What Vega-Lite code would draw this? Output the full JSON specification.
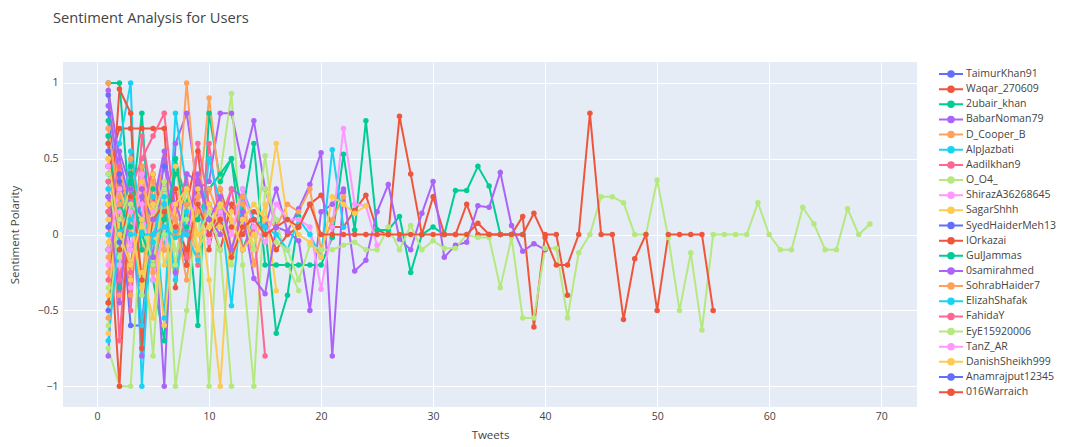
{
"$schema": "https://vega.github.io/schema/vega-lite/v6.json",
"width": 854, "height": 345,
"autosize": {"type": "none"},
"padding": {"left": 63, "top": 62, "right": 158, "bottom": 40},
"background": "white",
"title": {"text": "Sentiment Analysis for Users", "anchor": "start", "frame": "group", "dx": -10, "offset": 36, "font": "Open Sans", "fontSize": 14.7, "fontWeight": "normal", "color": "#444"},
"config": {
  "view": {"fill": "#E5ECF6", "stroke": null},
  "axis": {"grid": true, "gridColor": "#ffffff", "gridWidth": 1, "domain": false, "ticks": false, "labelColor": "#444", "labelFont": "Open Sans", "labelFontSize": 10.5, "titleColor": "#444", "titleFont": "Open Sans", "titleFontSize": 11.5, "titleFontWeight": "normal"}
},
"data": {"values": [
{"user":"TaimurKhan91","tweet":1,"polarity":0.92},{"user":"TaimurKhan91","tweet":2,"polarity":0.3},{"user":"TaimurKhan91","tweet":3,"polarity":-0.6},{"user":"TaimurKhan91","tweet":4,"polarity":-0.6},{"user":"TaimurKhan91","tweet":5,"polarity":0.2},{"user":"TaimurKhan91","tweet":6,"polarity":0.45},{"user":"TaimurKhan91","tweet":7,"polarity":0.1},{"user":"TaimurKhan91","tweet":8,"polarity":-0.2},{"user":"TaimurKhan91","tweet":9,"polarity":0.25},{"user":"TaimurKhan91","tweet":10,"polarity":0.0},{"user":"TaimurKhan91","tweet":11,"polarity":0.15},
{"user":"Waqar_270609","tweet":1,"polarity":0.45},{"user":"Waqar_270609","tweet":2,"polarity":0.7},{"user":"Waqar_270609","tweet":3,"polarity":0.7},{"user":"Waqar_270609","tweet":4,"polarity":0.7},{"user":"Waqar_270609","tweet":5,"polarity":0.7},{"user":"Waqar_270609","tweet":6,"polarity":0.7},{"user":"Waqar_270609","tweet":7,"polarity":-0.35},{"user":"Waqar_270609","tweet":8,"polarity":0.2},{"user":"Waqar_270609","tweet":9,"polarity":0.55},{"user":"Waqar_270609","tweet":10,"polarity":-0.1},{"user":"Waqar_270609","tweet":11,"polarity":0.3},{"user":"Waqar_270609","tweet":12,"polarity":0.05},
{"user":"2ubair_khan","tweet":1,"polarity":1.0},{"user":"2ubair_khan","tweet":2,"polarity":1.0},{"user":"2ubair_khan","tweet":3,"polarity":0.1},{"user":"2ubair_khan","tweet":4,"polarity":0.8},{"user":"2ubair_khan","tweet":5,"polarity":-0.3},{"user":"2ubair_khan","tweet":6,"polarity":-0.7},{"user":"2ubair_khan","tweet":7,"polarity":0.5},{"user":"2ubair_khan","tweet":8,"polarity":0.2},{"user":"2ubair_khan","tweet":9,"polarity":-0.6},{"user":"2ubair_khan","tweet":10,"polarity":0.8},{"user":"2ubair_khan","tweet":11,"polarity":0.35},{"user":"2ubair_khan","tweet":12,"polarity":0.5},{"user":"2ubair_khan","tweet":13,"polarity":-0.1},{"user":"2ubair_khan","tweet":14,"polarity":0.1},{"user":"2ubair_khan","tweet":15,"polarity":0.05},{"user":"2ubair_khan","tweet":16,"polarity":-0.65},{"user":"2ubair_khan","tweet":17,"polarity":-0.4},{"user":"2ubair_khan","tweet":18,"polarity":0.12},
{"user":"BabarNoman79","tweet":1,"polarity":-0.8},{"user":"BabarNoman79","tweet":2,"polarity":0.55},{"user":"BabarNoman79","tweet":3,"polarity":0.3},{"user":"BabarNoman79","tweet":4,"polarity":-0.8},{"user":"BabarNoman79","tweet":5,"polarity":0.2},{"user":"BabarNoman79","tweet":6,"polarity":-1.0},{"user":"BabarNoman79","tweet":7,"polarity":0.6},{"user":"BabarNoman79","tweet":8,"polarity":0.8},{"user":"BabarNoman79","tweet":9,"polarity":0.3},{"user":"BabarNoman79","tweet":10,"polarity":0.35},{"user":"BabarNoman79","tweet":11,"polarity":0.8},{"user":"BabarNoman79","tweet":12,"polarity":0.8},{"user":"BabarNoman79","tweet":13,"polarity":0.45},{"user":"BabarNoman79","tweet":14,"polarity":0.75},{"user":"BabarNoman79","tweet":15,"polarity":0.3},{"user":"BabarNoman79","tweet":16,"polarity":0.05},{"user":"BabarNoman79","tweet":17,"polarity":0.02},{"user":"BabarNoman79","tweet":18,"polarity":-0.04},{"user":"BabarNoman79","tweet":19,"polarity":-0.5},{"user":"BabarNoman79","tweet":20,"polarity":0.15},{"user":"BabarNoman79","tweet":21,"polarity":0.2},{"user":"BabarNoman79","tweet":22,"polarity":0.3},
{"user":"D_Cooper_B","tweet":1,"polarity":1.0},{"user":"D_Cooper_B","tweet":2,"polarity":0.2},{"user":"D_Cooper_B","tweet":3,"polarity":-0.4},{"user":"D_Cooper_B","tweet":4,"polarity":0.35},{"user":"D_Cooper_B","tweet":5,"polarity":0.1},{"user":"D_Cooper_B","tweet":6,"polarity":0.5},{"user":"D_Cooper_B","tweet":7,"polarity":0.0},{"user":"D_Cooper_B","tweet":8,"polarity":1.0},{"user":"D_Cooper_B","tweet":9,"polarity":0.15},{"user":"D_Cooper_B","tweet":10,"polarity":0.9},{"user":"D_Cooper_B","tweet":11,"polarity":0.3},{"user":"D_Cooper_B","tweet":12,"polarity":-0.1},{"user":"D_Cooper_B","tweet":13,"polarity":0.2},
{"user":"AlpJazbati","tweet":1,"polarity":0.4},{"user":"AlpJazbati","tweet":2,"polarity":0.6},{"user":"AlpJazbati","tweet":3,"polarity":1.0},{"user":"AlpJazbati","tweet":4,"polarity":-1.0},{"user":"AlpJazbati","tweet":5,"polarity":0.25},{"user":"AlpJazbati","tweet":6,"polarity":-0.55},{"user":"AlpJazbati","tweet":7,"polarity":0.8},{"user":"AlpJazbati","tweet":8,"polarity":0.3},{"user":"AlpJazbati","tweet":9,"polarity":0.1},{"user":"AlpJazbati","tweet":10,"polarity":0.2},
{"user":"Aadilkhan9","tweet":1,"polarity":0.65},{"user":"Aadilkhan9","tweet":2,"polarity":-0.7},{"user":"Aadilkhan9","tweet":3,"polarity":0.3},{"user":"Aadilkhan9","tweet":4,"polarity":0.5},{"user":"Aadilkhan9","tweet":5,"polarity":0.65},{"user":"Aadilkhan9","tweet":6,"polarity":0.8},{"user":"Aadilkhan9","tweet":7,"polarity":0.1},{"user":"Aadilkhan9","tweet":8,"polarity":0.4},{"user":"Aadilkhan9","tweet":9,"polarity":-0.2},{"user":"Aadilkhan9","tweet":10,"polarity":0.6},{"user":"Aadilkhan9","tweet":11,"polarity":0.05},
{"user":"O_O4_","tweet":1,"polarity":-0.75},{"user":"O_O4_","tweet":2,"polarity":-1.0},{"user":"O_O4_","tweet":3,"polarity":-1.0},{"user":"O_O4_","tweet":4,"polarity":0.1},{"user":"O_O4_","tweet":5,"polarity":-0.8},{"user":"O_O4_","tweet":6,"polarity":0.3},{"user":"O_O4_","tweet":7,"polarity":-1.0},{"user":"O_O4_","tweet":8,"polarity":-0.5},{"user":"O_O4_","tweet":9,"polarity":0.2},{"user":"O_O4_","tweet":10,"polarity":-1.0},{"user":"O_O4_","tweet":11,"polarity":0.4},{"user":"O_O4_","tweet":12,"polarity":0.93},{"user":"O_O4_","tweet":13,"polarity":-0.2},{"user":"O_O4_","tweet":14,"polarity":-1.0},{"user":"O_O4_","tweet":15,"polarity":0.3},{"user":"O_O4_","tweet":16,"polarity":0.1},{"user":"O_O4_","tweet":17,"polarity":-0.2},{"user":"O_O4_","tweet":18,"polarity":-0.37},
{"user":"ShirazA36268645","tweet":1,"polarity":0.55},{"user":"ShirazA36268645","tweet":2,"polarity":0.2},{"user":"ShirazA36268645","tweet":3,"polarity":-0.35},{"user":"ShirazA36268645","tweet":4,"polarity":0.4},{"user":"ShirazA36268645","tweet":5,"polarity":0.15},{"user":"ShirazA36268645","tweet":6,"polarity":-0.1},{"user":"ShirazA36268645","tweet":7,"polarity":0.3},{"user":"ShirazA36268645","tweet":8,"polarity":0.05},
{"user":"SagarShhh","tweet":1,"polarity":-0.65},{"user":"SagarShhh","tweet":2,"polarity":0.35},{"user":"SagarShhh","tweet":3,"polarity":0.1},{"user":"SagarShhh","tweet":4,"polarity":-0.25},{"user":"SagarShhh","tweet":5,"polarity":-0.55},{"user":"SagarShhh","tweet":6,"polarity":0.2},{"user":"SagarShhh","tweet":7,"polarity":0.45},{"user":"SagarShhh","tweet":8,"polarity":0.0},{"user":"SagarShhh","tweet":9,"polarity":0.3},{"user":"SagarShhh","tweet":10,"polarity":-0.3},{"user":"SagarShhh","tweet":11,"polarity":-1.0},{"user":"SagarShhh","tweet":12,"polarity":0.15},{"user":"SagarShhh","tweet":13,"polarity":0.25},{"user":"SagarShhh","tweet":14,"polarity":-0.1},{"user":"SagarShhh","tweet":15,"polarity":0.2},{"user":"SagarShhh","tweet":16,"polarity":-0.37},
{"user":"SyedHaiderMeh13","tweet":1,"polarity":0.8},{"user":"SyedHaiderMeh13","tweet":2,"polarity":0.15},{"user":"SyedHaiderMeh13","tweet":3,"polarity":0.4},{"user":"SyedHaiderMeh13","tweet":4,"polarity":0.0},{"user":"SyedHaiderMeh13","tweet":5,"polarity":-0.15},{"user":"SyedHaiderMeh13","tweet":6,"polarity":0.3},{"user":"SyedHaiderMeh13","tweet":7,"polarity":0.2},
{"user":"IOrkazai","tweet":1,"polarity":-0.1},{"user":"IOrkazai","tweet":2,"polarity":0.96},{"user":"IOrkazai","tweet":3,"polarity":0.8},{"user":"IOrkazai","tweet":4,"polarity":-0.75},{"user":"IOrkazai","tweet":5,"polarity":0.4},{"user":"IOrkazai","tweet":6,"polarity":0.1},{"user":"IOrkazai","tweet":7,"polarity":0.3},{"user":"IOrkazai","tweet":8,"polarity":-0.2},{"user":"IOrkazai","tweet":9,"polarity":0.35},{"user":"IOrkazai","tweet":10,"polarity":0.1},{"user":"IOrkazai","tweet":11,"polarity":-0.1},{"user":"IOrkazai","tweet":12,"polarity":0.2},{"user":"IOrkazai","tweet":13,"polarity":0.0},{"user":"IOrkazai","tweet":14,"polarity":0.15},{"user":"IOrkazai","tweet":15,"polarity":0.1},{"user":"IOrkazai","tweet":16,"polarity":-0.1},{"user":"IOrkazai","tweet":17,"polarity":0.0},{"user":"IOrkazai","tweet":18,"polarity":0.05},{"user":"IOrkazai","tweet":19,"polarity":0.2},{"user":"IOrkazai","tweet":20,"polarity":0.26},{"user":"IOrkazai","tweet":21,"polarity":0.05},{"user":"IOrkazai","tweet":22,"polarity":0.05},{"user":"IOrkazai","tweet":23,"polarity":0.16},{"user":"IOrkazai","tweet":24,"polarity":0.26},{"user":"IOrkazai","tweet":25,"polarity":0.03},{"user":"IOrkazai","tweet":26,"polarity":0.0},{"user":"IOrkazai","tweet":27,"polarity":0.78},{"user":"IOrkazai","tweet":28,"polarity":0.4},{"user":"IOrkazai","tweet":29,"polarity":0.0},{"user":"IOrkazai","tweet":30,"polarity":0.25},{"user":"IOrkazai","tweet":31,"polarity":0.0},{"user":"IOrkazai","tweet":32,"polarity":0.0},{"user":"IOrkazai","tweet":33,"polarity":0.2},{"user":"IOrkazai","tweet":34,"polarity":0.0},{"user":"IOrkazai","tweet":35,"polarity":0.0},{"user":"IOrkazai","tweet":36,"polarity":0.0},{"user":"IOrkazai","tweet":37,"polarity":0.0},{"user":"IOrkazai","tweet":38,"polarity":0.12},{"user":"IOrkazai","tweet":39,"polarity":-0.61},{"user":"IOrkazai","tweet":40,"polarity":0.0},{"user":"IOrkazai","tweet":41,"polarity":0.0},{"user":"IOrkazai","tweet":42,"polarity":-0.4},
{"user":"GulJammas","tweet":1,"polarity":0.35},{"user":"GulJammas","tweet":2,"polarity":-0.2},{"user":"GulJammas","tweet":3,"polarity":0.45},{"user":"GulJammas","tweet":4,"polarity":0.1},{"user":"GulJammas","tweet":5,"polarity":0.2},{"user":"GulJammas","tweet":6,"polarity":-0.1},{"user":"GulJammas","tweet":7,"polarity":0.5},{"user":"GulJammas","tweet":8,"polarity":0.05},{"user":"GulJammas","tweet":9,"polarity":0.1},{"user":"GulJammas","tweet":10,"polarity":0.3},{"user":"GulJammas","tweet":11,"polarity":0.4},{"user":"GulJammas","tweet":12,"polarity":0.5},{"user":"GulJammas","tweet":13,"polarity":0.15},{"user":"GulJammas","tweet":14,"polarity":0.6},{"user":"GulJammas","tweet":15,"polarity":-0.2},{"user":"GulJammas","tweet":16,"polarity":-0.2},{"user":"GulJammas","tweet":17,"polarity":-0.2},{"user":"GulJammas","tweet":18,"polarity":-0.2},{"user":"GulJammas","tweet":19,"polarity":-0.2},{"user":"GulJammas","tweet":20,"polarity":-0.2},{"user":"GulJammas","tweet":21,"polarity":-0.02},{"user":"GulJammas","tweet":22,"polarity":0.53},{"user":"GulJammas","tweet":23,"polarity":0.03},{"user":"GulJammas","tweet":24,"polarity":0.75},{"user":"GulJammas","tweet":25,"polarity":0.03},{"user":"GulJammas","tweet":26,"polarity":0.03},{"user":"GulJammas","tweet":27,"polarity":0.12},{"user":"GulJammas","tweet":28,"polarity":-0.25},{"user":"GulJammas","tweet":29,"polarity":0.0},{"user":"GulJammas","tweet":30,"polarity":0.05},{"user":"GulJammas","tweet":31,"polarity":0.0},{"user":"GulJammas","tweet":32,"polarity":0.29},{"user":"GulJammas","tweet":33,"polarity":0.29},{"user":"GulJammas","tweet":34,"polarity":0.45},{"user":"GulJammas","tweet":35,"polarity":0.32},{"user":"GulJammas","tweet":36,"polarity":0.0},{"user":"GulJammas","tweet":37,"polarity":0.0},{"user":"GulJammas","tweet":38,"polarity":0.0},
{"user":"0samirahmed","tweet":1,"polarity":0.6},{"user":"0samirahmed","tweet":2,"polarity":0.1},{"user":"0samirahmed","tweet":3,"polarity":-0.3},{"user":"0samirahmed","tweet":4,"polarity":0.45},{"user":"0samirahmed","tweet":5,"polarity":0.2},{"user":"0samirahmed","tweet":6,"polarity":0.55},{"user":"0samirahmed","tweet":7,"polarity":-0.25},{"user":"0samirahmed","tweet":8,"polarity":0.4},{"user":"0samirahmed","tweet":9,"polarity":0.35},{"user":"0samirahmed","tweet":10,"polarity":0.1},{"user":"0samirahmed","tweet":11,"polarity":0.0},{"user":"0samirahmed","tweet":12,"polarity":0.3},{"user":"0samirahmed","tweet":13,"polarity":0.25},{"user":"0samirahmed","tweet":14,"polarity":0.1},{"user":"0samirahmed","tweet":15,"polarity":0.05},{"user":"0samirahmed","tweet":16,"polarity":0.3},{"user":"0samirahmed","tweet":17,"polarity":0.02},{"user":"0samirahmed","tweet":18,"polarity":0.17},{"user":"0samirahmed","tweet":19,"polarity":0.33},{"user":"0samirahmed","tweet":20,"polarity":0.54},{"user":"0samirahmed","tweet":21,"polarity":-0.8},{"user":"0samirahmed","tweet":22,"polarity":0.28},{"user":"0samirahmed","tweet":23,"polarity":-0.24},{"user":"0samirahmed","tweet":24,"polarity":-0.17},{"user":"0samirahmed","tweet":25,"polarity":0.15},{"user":"0samirahmed","tweet":26,"polarity":0.33},{"user":"0samirahmed","tweet":27,"polarity":-0.03},{"user":"0samirahmed","tweet":28,"polarity":-0.1},{"user":"0samirahmed","tweet":29,"polarity":0.14},{"user":"0samirahmed","tweet":30,"polarity":0.35},{"user":"0samirahmed","tweet":31,"polarity":-0.15},{"user":"0samirahmed","tweet":32,"polarity":-0.07},{"user":"0samirahmed","tweet":33,"polarity":-0.05},{"user":"0samirahmed","tweet":34,"polarity":0.19},{"user":"0samirahmed","tweet":35,"polarity":0.18},{"user":"0samirahmed","tweet":36,"polarity":0.41},{"user":"0samirahmed","tweet":37,"polarity":0.06},{"user":"0samirahmed","tweet":38,"polarity":-0.11},{"user":"0samirahmed","tweet":39,"polarity":-0.06},{"user":"0samirahmed","tweet":40,"polarity":-0.1},
{"user":"SohrabHaider7","tweet":1,"polarity":0.25},{"user":"SohrabHaider7","tweet":2,"polarity":-0.4},{"user":"SohrabHaider7","tweet":3,"polarity":0.5},{"user":"SohrabHaider7","tweet":4,"polarity":0.1},{"user":"SohrabHaider7","tweet":5,"polarity":-0.2},{"user":"SohrabHaider7","tweet":6,"polarity":0.35},{"user":"SohrabHaider7","tweet":7,"polarity":0.0},{"user":"SohrabHaider7","tweet":8,"polarity":0.2},{"user":"SohrabHaider7","tweet":9,"polarity":-0.15},{"user":"SohrabHaider7","tweet":10,"polarity":0.3},{"user":"SohrabHaider7","tweet":11,"polarity":0.1},{"user":"SohrabHaider7","tweet":12,"polarity":0.0},{"user":"SohrabHaider7","tweet":13,"polarity":0.25},{"user":"SohrabHaider7","tweet":14,"polarity":-0.2},{"user":"SohrabHaider7","tweet":15,"polarity":0.1},{"user":"SohrabHaider7","tweet":16,"polarity":0.05},{"user":"SohrabHaider7","tweet":17,"polarity":0.2},{"user":"SohrabHaider7","tweet":18,"polarity":0.15},{"user":"SohrabHaider7","tweet":19,"polarity":0.3},{"user":"SohrabHaider7","tweet":20,"polarity":-0.1},{"user":"SohrabHaider7","tweet":21,"polarity":0.1},{"user":"SohrabHaider7","tweet":22,"polarity":0.25},
{"user":"ElizahShafak","tweet":1,"polarity":0.05},{"user":"ElizahShafak","tweet":2,"polarity":0.02},{"user":"ElizahShafak","tweet":3,"polarity":0.0},{"user":"ElizahShafak","tweet":4,"polarity":0.02},{"user":"ElizahShafak","tweet":5,"polarity":-0.05},{"user":"ElizahShafak","tweet":6,"polarity":0.0},{"user":"ElizahShafak","tweet":7,"polarity":0.02},{"user":"ElizahShafak","tweet":8,"polarity":0.0},{"user":"ElizahShafak","tweet":9,"polarity":-0.17},{"user":"ElizahShafak","tweet":10,"polarity":0.5},{"user":"ElizahShafak","tweet":11,"polarity":0.2},{"user":"ElizahShafak","tweet":12,"polarity":-0.47},{"user":"ElizahShafak","tweet":13,"polarity":0.3},{"user":"ElizahShafak","tweet":14,"polarity":0.1},{"user":"ElizahShafak","tweet":15,"polarity":0.05},{"user":"ElizahShafak","tweet":16,"polarity":0.0},{"user":"ElizahShafak","tweet":17,"polarity":-0.1},{"user":"ElizahShafak","tweet":18,"polarity":0.1},{"user":"ElizahShafak","tweet":19,"polarity":0.0},{"user":"ElizahShafak","tweet":20,"polarity":-0.15},{"user":"ElizahShafak","tweet":21,"polarity":0.56},{"user":"ElizahShafak","tweet":22,"polarity":0.05},
{"user":"FahidaY","tweet":1,"polarity":-0.3},{"user":"FahidaY","tweet":2,"polarity":0.4},{"user":"FahidaY","tweet":3,"polarity":-0.5},{"user":"FahidaY","tweet":4,"polarity":0.65},{"user":"FahidaY","tweet":5,"polarity":0.2},{"user":"FahidaY","tweet":6,"polarity":0.3},{"user":"FahidaY","tweet":7,"polarity":0.1},{"user":"FahidaY","tweet":8,"polarity":-0.15},{"user":"FahidaY","tweet":9,"polarity":0.6},{"user":"FahidaY","tweet":10,"polarity":0.2},{"user":"FahidaY","tweet":11,"polarity":0.1},{"user":"FahidaY","tweet":12,"polarity":0.3},{"user":"FahidaY","tweet":13,"polarity":-0.1},{"user":"FahidaY","tweet":14,"polarity":0.05},{"user":"FahidaY","tweet":15,"polarity":-0.8},
{"user":"EyE15920006","tweet":1,"polarity":0.1},{"user":"EyE15920006","tweet":2,"polarity":-0.2},{"user":"EyE15920006","tweet":3,"polarity":0.3},{"user":"EyE15920006","tweet":4,"polarity":-0.1},{"user":"EyE15920006","tweet":5,"polarity":0.2},{"user":"EyE15920006","tweet":6,"polarity":0.0},{"user":"EyE15920006","tweet":7,"polarity":-0.3},{"user":"EyE15920006","tweet":8,"polarity":0.1},{"user":"EyE15920006","tweet":9,"polarity":-0.1},{"user":"EyE15920006","tweet":10,"polarity":0.05},{"user":"EyE15920006","tweet":11,"polarity":0.2},{"user":"EyE15920006","tweet":12,"polarity":-0.2},{"user":"EyE15920006","tweet":13,"polarity":0.1},{"user":"EyE15920006","tweet":14,"polarity":-0.1},{"user":"EyE15920006","tweet":15,"polarity":0.52},{"user":"EyE15920006","tweet":16,"polarity":-0.05},{"user":"EyE15920006","tweet":17,"polarity":-0.1},{"user":"EyE15920006","tweet":18,"polarity":-0.3},{"user":"EyE15920006","tweet":19,"polarity":-0.07},{"user":"EyE15920006","tweet":20,"polarity":-0.1},{"user":"EyE15920006","tweet":21,"polarity":-0.1},{"user":"EyE15920006","tweet":22,"polarity":-0.07},{"user":"EyE15920006","tweet":23,"polarity":-0.05},{"user":"EyE15920006","tweet":24,"polarity":-0.1},{"user":"EyE15920006","tweet":25,"polarity":-0.1},{"user":"EyE15920006","tweet":26,"polarity":0.05},{"user":"EyE15920006","tweet":27,"polarity":-0.1},{"user":"EyE15920006","tweet":28,"polarity":0.06},{"user":"EyE15920006","tweet":29,"polarity":-0.1},{"user":"EyE15920006","tweet":30,"polarity":-0.04},{"user":"EyE15920006","tweet":31,"polarity":-0.09},{"user":"EyE15920006","tweet":32,"polarity":-0.09},{"user":"EyE15920006","tweet":33,"polarity":0.0},{"user":"EyE15920006","tweet":34,"polarity":-0.02},{"user":"EyE15920006","tweet":35,"polarity":-0.02},{"user":"EyE15920006","tweet":36,"polarity":-0.35},{"user":"EyE15920006","tweet":37,"polarity":-0.02},{"user":"EyE15920006","tweet":38,"polarity":-0.55},{"user":"EyE15920006","tweet":39,"polarity":-0.55},{"user":"EyE15920006","tweet":40,"polarity":-0.09},{"user":"EyE15920006","tweet":41,"polarity":-0.09},{"user":"EyE15920006","tweet":42,"polarity":-0.55},{"user":"EyE15920006","tweet":43,"polarity":-0.12},{"user":"EyE15920006","tweet":44,"polarity":0.0},{"user":"EyE15920006","tweet":45,"polarity":0.25},{"user":"EyE15920006","tweet":46,"polarity":0.25},{"user":"EyE15920006","tweet":47,"polarity":0.21},{"user":"EyE15920006","tweet":48,"polarity":0.0},{"user":"EyE15920006","tweet":49,"polarity":0.0},{"user":"EyE15920006","tweet":50,"polarity":0.36},{"user":"EyE15920006","tweet":51,"polarity":-0.02},{"user":"EyE15920006","tweet":52,"polarity":-0.5},{"user":"EyE15920006","tweet":53,"polarity":-0.12},{"user":"EyE15920006","tweet":54,"polarity":-0.63},{"user":"EyE15920006","tweet":55,"polarity":0.0},{"user":"EyE15920006","tweet":56,"polarity":0.0},{"user":"EyE15920006","tweet":57,"polarity":0.0},{"user":"EyE15920006","tweet":58,"polarity":0.0},{"user":"EyE15920006","tweet":59,"polarity":0.21},{"user":"EyE15920006","tweet":60,"polarity":0.0},{"user":"EyE15920006","tweet":61,"polarity":-0.1},{"user":"EyE15920006","tweet":62,"polarity":-0.1},{"user":"EyE15920006","tweet":63,"polarity":0.18},{"user":"EyE15920006","tweet":64,"polarity":0.07},{"user":"EyE15920006","tweet":65,"polarity":-0.1},{"user":"EyE15920006","tweet":66,"polarity":-0.1},{"user":"EyE15920006","tweet":67,"polarity":0.17},{"user":"EyE15920006","tweet":68,"polarity":0.0},{"user":"EyE15920006","tweet":69,"polarity":0.07},
{"user":"TanZ_AR","tweet":1,"polarity":0.3},{"user":"TanZ_AR","tweet":2,"polarity":-0.2},{"user":"TanZ_AR","tweet":3,"polarity":0.15},{"user":"TanZ_AR","tweet":4,"polarity":0.35},{"user":"TanZ_AR","tweet":5,"polarity":0.1},{"user":"TanZ_AR","tweet":6,"polarity":-0.1},{"user":"TanZ_AR","tweet":7,"polarity":0.2},{"user":"TanZ_AR","tweet":8,"polarity":0.0},{"user":"TanZ_AR","tweet":9,"polarity":0.25},{"user":"TanZ_AR","tweet":10,"polarity":-0.05},{"user":"TanZ_AR","tweet":11,"polarity":0.15},{"user":"TanZ_AR","tweet":12,"polarity":0.0},{"user":"TanZ_AR","tweet":13,"polarity":0.3},{"user":"TanZ_AR","tweet":14,"polarity":0.05},{"user":"TanZ_AR","tweet":15,"polarity":-0.05},{"user":"TanZ_AR","tweet":16,"polarity":0.2},{"user":"TanZ_AR","tweet":17,"polarity":0.1},{"user":"TanZ_AR","tweet":18,"polarity":0.1},{"user":"TanZ_AR","tweet":19,"polarity":0.05},{"user":"TanZ_AR","tweet":20,"polarity":-0.36},{"user":"TanZ_AR","tweet":21,"polarity":0.05},{"user":"TanZ_AR","tweet":22,"polarity":0.7},{"user":"TanZ_AR","tweet":23,"polarity":0.2},{"user":"TanZ_AR","tweet":24,"polarity":0.19},{"user":"TanZ_AR","tweet":25,"polarity":-0.07},
{"user":"DanishSheikh999","tweet":1,"polarity":0.1},{"user":"DanishSheikh999","tweet":2,"polarity":-0.45},{"user":"DanishSheikh999","tweet":3,"polarity":0.25},{"user":"DanishSheikh999","tweet":4,"polarity":0.05},{"user":"DanishSheikh999","tweet":5,"polarity":0.4},{"user":"DanishSheikh999","tweet":6,"polarity":-0.2},{"user":"DanishSheikh999","tweet":7,"polarity":0.1},{"user":"DanishSheikh999","tweet":8,"polarity":0.3},{"user":"DanishSheikh999","tweet":9,"polarity":-0.1},{"user":"DanishSheikh999","tweet":10,"polarity":0.2},{"user":"DanishSheikh999","tweet":11,"polarity":0.05},{"user":"DanishSheikh999","tweet":12,"polarity":-0.15},{"user":"DanishSheikh999","tweet":13,"polarity":0.1},{"user":"DanishSheikh999","tweet":14,"polarity":0.2},{"user":"DanishSheikh999","tweet":15,"polarity":0.1},{"user":"DanishSheikh999","tweet":16,"polarity":0.6},{"user":"DanishSheikh999","tweet":17,"polarity":0.1},{"user":"DanishSheikh999","tweet":18,"polarity":0.0},{"user":"DanishSheikh999","tweet":19,"polarity":-0.05},{"user":"DanishSheikh999","tweet":20,"polarity":-0.15},{"user":"DanishSheikh999","tweet":21,"polarity":0.25},{"user":"DanishSheikh999","tweet":22,"polarity":0.2},{"user":"DanishSheikh999","tweet":23,"polarity":0.14},{"user":"DanishSheikh999","tweet":24,"polarity":0.19},
{"user":"Anamrajput12345","tweet":1,"polarity":-0.5},{"user":"Anamrajput12345","tweet":2,"polarity":0.35},{"user":"Anamrajput12345","tweet":3,"polarity":0.2},{"user":"Anamrajput12345","tweet":4,"polarity":0.0},{"user":"Anamrajput12345","tweet":5,"polarity":0.1},
{"user":"016Warraich","tweet":1,"polarity":0.2},{"user":"016Warraich","tweet":2,"polarity":-0.35},{"user":"016Warraich","tweet":3,"polarity":0.1},{"user":"016Warraich","tweet":4,"polarity":0.3},{"user":"016Warraich","tweet":5,"polarity":-0.2},{"user":"016Warraich","tweet":6,"polarity":0.15},{"user":"016Warraich","tweet":7,"polarity":0.05},{"user":"016Warraich","tweet":8,"polarity":-0.1},{"user":"016Warraich","tweet":9,"polarity":0.2},{"user":"016Warraich","tweet":10,"polarity":0.0},{"user":"016Warraich","tweet":11,"polarity":0.1},{"user":"016Warraich","tweet":12,"polarity":-0.15},{"user":"016Warraich","tweet":13,"polarity":0.05},{"user":"016Warraich","tweet":14,"polarity":0.1},{"user":"016Warraich","tweet":15,"polarity":0.0},{"user":"016Warraich","tweet":16,"polarity":0.05},{"user":"016Warraich","tweet":17,"polarity":0.1},{"user":"016Warraich","tweet":18,"polarity":0.05},{"user":"016Warraich","tweet":19,"polarity":0.2},{"user":"016Warraich","tweet":20,"polarity":0.0},{"user":"016Warraich","tweet":21,"polarity":0.0},{"user":"016Warraich","tweet":22,"polarity":0.0},{"user":"016Warraich","tweet":23,"polarity":0.0},{"user":"016Warraich","tweet":24,"polarity":0.0},{"user":"016Warraich","tweet":25,"polarity":0.0},{"user":"016Warraich","tweet":26,"polarity":0.0},{"user":"016Warraich","tweet":27,"polarity":0.0},{"user":"016Warraich","tweet":28,"polarity":0.0},{"user":"016Warraich","tweet":29,"polarity":0.0},{"user":"016Warraich","tweet":30,"polarity":0.0},{"user":"016Warraich","tweet":31,"polarity":0.0},{"user":"016Warraich","tweet":32,"polarity":0.0},{"user":"016Warraich","tweet":33,"polarity":0.0},{"user":"016Warraich","tweet":34,"polarity":0.075},{"user":"016Warraich","tweet":35,"polarity":0.0},{"user":"016Warraich","tweet":36,"polarity":0.0},{"user":"016Warraich","tweet":37,"polarity":0.0},{"user":"016Warraich","tweet":38,"polarity":0.0},{"user":"016Warraich","tweet":39,"polarity":0.14},{"user":"016Warraich","tweet":40,"polarity":-0.02},{"user":"016Warraich","tweet":41,"polarity":-0.2},{"user":"016Warraich","tweet":42,"polarity":-0.2},{"user":"016Warraich","tweet":43,"polarity":0.0},{"user":"016Warraich","tweet":44,"polarity":0.8},{"user":"016Warraich","tweet":45,"polarity":0.0},{"user":"016Warraich","tweet":46,"polarity":0.0},{"user":"016Warraich","tweet":47,"polarity":-0.56},{"user":"016Warraich","tweet":48,"polarity":-0.16},{"user":"016Warraich","tweet":49,"polarity":0.0},{"user":"016Warraich","tweet":50,"polarity":-0.5},{"user":"016Warraich","tweet":51,"polarity":0.0},{"user":"016Warraich","tweet":52,"polarity":0.0},{"user":"016Warraich","tweet":53,"polarity":0.0},{"user":"016Warraich","tweet":54,"polarity":0.0},{"user":"016Warraich","tweet":55,"polarity":-0.5},
{"user":"user22","tweet":1,"polarity":0.75},{"user":"user22","tweet":2,"polarity":-0.35},{"user":"user22","tweet":3,"polarity":0.2},{"user":"user22","tweet":4,"polarity":0.0},{"user":"user22","tweet":5,"polarity":0.3},
{"user":"user23","tweet":1,"polarity":0.45},{"user":"user23","tweet":2,"polarity":0.1},{"user":"user23","tweet":3,"polarity":-0.2},{"user":"user23","tweet":4,"polarity":0.3},{"user":"user23","tweet":5,"polarity":-0.15},{"user":"user23","tweet":6,"polarity":0.5},{"user":"user23","tweet":7,"polarity":0.2},{"user":"user23","tweet":8,"polarity":0.0},{"user":"user23","tweet":9,"polarity":0.4},{"user":"user23","tweet":10,"polarity":0.1},{"user":"user23","tweet":11,"polarity":0.25},{"user":"user23","tweet":12,"polarity":-0.1},{"user":"user23","tweet":13,"polarity":0.15},{"user":"user23","tweet":14,"polarity":-0.29},{"user":"user23","tweet":15,"polarity":-0.39},{"user":"user23","tweet":16,"polarity":0.05},
{"user":"user24","tweet":1,"polarity":-0.55},{"user":"user24","tweet":2,"polarity":0.25},{"user":"user24","tweet":3,"polarity":0.1},{"user":"user24","tweet":4,"polarity":-0.3},{"user":"user24","tweet":5,"polarity":0.35},{"user":"user24","tweet":6,"polarity":-0.1},
{"user":"user25","tweet":1,"polarity":0.3},{"user":"user25","tweet":2,"polarity":-0.1},{"user":"user25","tweet":3,"polarity":0.55},{"user":"user25","tweet":4,"polarity":0.1},{"user":"user25","tweet":5,"polarity":0.0},{"user":"user25","tweet":6,"polarity":0.25},{"user":"user25","tweet":7,"polarity":-0.3},{"user":"user25","tweet":8,"polarity":0.15},
{"user":"user26","tweet":1,"polarity":0.0},{"user":"user26","tweet":2,"polarity":0.3},{"user":"user26","tweet":3,"polarity":-0.25},{"user":"user26","tweet":4,"polarity":0.1},{"user":"user26","tweet":5,"polarity":0.45},
{"user":"user27","tweet":1,"polarity":0.6},{"user":"user27","tweet":2,"polarity":0.0},{"user":"user27","tweet":3,"polarity":0.2},{"user":"user27","tweet":4,"polarity":-0.4},{"user":"user27","tweet":5,"polarity":0.1},{"user":"user27","tweet":6,"polarity":0.35},{"user":"user27","tweet":7,"polarity":-0.2},{"user":"user27","tweet":8,"polarity":0.3},{"user":"user27","tweet":9,"polarity":0.0},{"user":"user27","tweet":10,"polarity":0.15},{"user":"user27","tweet":11,"polarity":-0.1},{"user":"user27","tweet":12,"polarity":-1.0},
{"user":"user28","tweet":1,"polarity":-0.2},{"user":"user28","tweet":2,"polarity":0.5},{"user":"user28","tweet":3,"polarity":0.1},{"user":"user28","tweet":4,"polarity":0.2},{"user":"user28","tweet":5,"polarity":-0.3},{"user":"user28","tweet":6,"polarity":0.05},
{"user":"user29","tweet":1,"polarity":0.2},{"user":"user29","tweet":2,"polarity":0.0},{"user":"user29","tweet":3,"polarity":-0.3},{"user":"user29","tweet":4,"polarity":0.35},{"user":"user29","tweet":5,"polarity":0.1},{"user":"user29","tweet":6,"polarity":-0.6},{"user":"user29","tweet":7,"polarity":0.2},{"user":"user29","tweet":8,"polarity":0.3},{"user":"user29","tweet":9,"polarity":0.0},{"user":"user29","tweet":10,"polarity":0.05},{"user":"user29","tweet":11,"polarity":0.2},{"user":"user29","tweet":12,"polarity":0.1},{"user":"user29","tweet":13,"polarity":-0.1},{"user":"user29","tweet":14,"polarity":0.0},
{"user":"user30","tweet":1,"polarity":0.25},{"user":"user30","tweet":2,"polarity":-0.05},{"user":"user30","tweet":3,"polarity":0.3},{"user":"user30","tweet":4,"polarity":0.1},
{"user":"user31","tweet":1,"polarity":0.15},{"user":"user31","tweet":2,"polarity":-1.0},{"user":"user31","tweet":3,"polarity":0.4},{"user":"user31","tweet":4,"polarity":-0.3},{"user":"user31","tweet":5,"polarity":0.1},{"user":"user31","tweet":6,"polarity":0.2},
{"user":"user32","tweet":1,"polarity":-0.45},{"user":"user32","tweet":2,"polarity":0.2},{"user":"user32","tweet":3,"polarity":0.35},{"user":"user32","tweet":4,"polarity":0.0},{"user":"user32","tweet":5,"polarity":-0.2},{"user":"user32","tweet":6,"polarity":0.1},{"user":"user32","tweet":7,"polarity":0.4},
{"user":"user33","tweet":1,"polarity":0.85},{"user":"user33","tweet":2,"polarity":0.4},{"user":"user33","tweet":3,"polarity":-0.1},{"user":"user33","tweet":4,"polarity":0.25},{"user":"user33","tweet":5,"polarity":0.1},
{"user":"user34","tweet":1,"polarity":-0.15},{"user":"user34","tweet":2,"polarity":0.3},{"user":"user34","tweet":3,"polarity":0.0},{"user":"user34","tweet":4,"polarity":0.45},{"user":"user34","tweet":5,"polarity":-0.25},{"user":"user34","tweet":6,"polarity":0.2},{"user":"user34","tweet":7,"polarity":0.1},{"user":"user34","tweet":8,"polarity":-0.3},{"user":"user34","tweet":9,"polarity":0.25},
{"user":"user35","tweet":1,"polarity":0.0},{"user":"user35","tweet":2,"polarity":0.0},{"user":"user35","tweet":3,"polarity":0.3},{"user":"user35","tweet":4,"polarity":-0.6},{"user":"user35","tweet":5,"polarity":0.0},{"user":"user35","tweet":6,"polarity":0.2},
{"user":"user36","tweet":1,"polarity":0.5},{"user":"user36","tweet":2,"polarity":0.1},{"user":"user36","tweet":3,"polarity":0.3},{"user":"user36","tweet":4,"polarity":-0.1},
{"user":"user37","tweet":1,"polarity":-0.35},{"user":"user37","tweet":2,"polarity":0.0},{"user":"user37","tweet":3,"polarity":0.2},{"user":"user37","tweet":4,"polarity":0.1},{"user":"user37","tweet":5,"polarity":-0.2},{"user":"user37","tweet":6,"polarity":0.3},{"user":"user37","tweet":7,"polarity":-0.1},
{"user":"user38","tweet":1,"polarity":0.7},{"user":"user38","tweet":2,"polarity":0.2},{"user":"user38","tweet":3,"polarity":-0.1},{"user":"user38","tweet":4,"polarity":0.4},
{"user":"user39","tweet":1,"polarity":-0.05},{"user":"user39","tweet":2,"polarity":0.3},{"user":"user39","tweet":3,"polarity":0.1},{"user":"user39","tweet":4,"polarity":-0.35},{"user":"user39","tweet":5,"polarity":0.2},
{"user":"user40","tweet":1,"polarity":0.55},{"user":"user40","tweet":2,"polarity":0.1},{"user":"user40","tweet":3,"polarity":-0.2},
{"user":"user41","tweet":1,"polarity":-0.45},{"user":"user41","tweet":2,"polarity":0.3},
{"user":"user42","tweet":1,"polarity":0.65},{"user":"user42","tweet":2,"polarity":0.0},{"user":"user42","tweet":3,"polarity":0.4},{"user":"user42","tweet":4,"polarity":-0.1},
{"user":"user43","tweet":1,"polarity":0.95},{"user":"user43","tweet":2,"polarity":0.5},{"user":"user43","tweet":3,"polarity":0.2},
{"user":"user44","tweet":1,"polarity":-0.25},{"user":"user44","tweet":2,"polarity":0.45},{"user":"user44","tweet":3,"polarity":0.1},
{"user":"user45","tweet":1,"polarity":0.15},{"user":"user45","tweet":2,"polarity":0.0},{"user":"user45","tweet":3,"polarity":0.0},{"user":"user45","tweet":4,"polarity":0.0},{"user":"user45","tweet":5,"polarity":0.0},{"user":"user45","tweet":6,"polarity":0.05},{"user":"user45","tweet":7,"polarity":-0.02},{"user":"user45","tweet":8,"polarity":0.0},
{"user":"user46","tweet":1,"polarity":0.35},{"user":"user46","tweet":2,"polarity":-0.3},{"user":"user46","tweet":3,"polarity":0.2},
{"user":"user47","tweet":1,"polarity":-0.6},{"user":"user47","tweet":2,"polarity":0.1},{"user":"user47","tweet":3,"polarity":0.3},
{"user":"user48","tweet":1,"polarity":0.45},{"user":"user48","tweet":2,"polarity":0.15},
{"user":"user49","tweet":1,"polarity":-0.4},{"user":"user49","tweet":2,"polarity":0.2},{"user":"user49","tweet":3,"polarity":-0.2},{"user":"user49","tweet":4,"polarity":0.1},
{"user":"user50","tweet":1,"polarity":0.05},{"user":"user50","tweet":2,"polarity":0.4},
{"user":"user51","tweet":1,"polarity":0.6},{"user":"user51","tweet":2,"polarity":-0.1},{"user":"user51","tweet":3,"polarity":0.25},
{"user":"user52","tweet":1,"polarity":-0.1},{"user":"user52","tweet":2,"polarity":0.2},{"user":"user52","tweet":3,"polarity":0.05},
{"user":"user53","tweet":1,"polarity":0.25},{"user":"user53","tweet":2,"polarity":-0.45},{"user":"user53","tweet":3,"polarity":0.3},
{"user":"user54","tweet":1,"polarity":0.7},{"user":"user54","tweet":2,"polarity":0.2},
{"user":"user55","tweet":1,"polarity":-0.7},{"user":"user55","tweet":2,"polarity":0.0},{"user":"user55","tweet":3,"polarity":0.1},
{"user":"user56","tweet":1,"polarity":0.15},{"user":"user56","tweet":2,"polarity":0.45},
{"user":"user57","tweet":1,"polarity":0.4},{"user":"user57","tweet":2,"polarity":-0.15},{"user":"user57","tweet":3,"polarity":0.2},
{"user":"user58","tweet":1,"polarity":-0.1},{"user":"user58","tweet":2,"polarity":0.3},
{"user":"user59","tweet":1,"polarity":0.5},{"user":"user59","tweet":2,"polarity":0.0},{"user":"user59","tweet":3,"polarity":-0.2}
]},
"encoding": {
  "x": {"field": "tweet", "type": "quantitative", "title": "Tweets", "scale": {"domain": [-3.04, 73.2], "nice": false, "zero": false}, "axis": {"values": [0,10,20,30,40,50,60,70], "labelPadding": 4, "titlePadding": 8}},
  "y": {"field": "polarity", "type": "quantitative", "title": "Sentiment Polarity", "scale": {"domain": [-1.137, 1.138], "nice": false, "zero": false}, "axis": {"values": [-1,-0.5,0,0.5,1], "format": "~g", "labelPadding": 5, "titlePadding": 17}},
  "color": {"field": "user", "type": "nominal", "sort": null,
    "scale": {
      "domain": ["TaimurKhan91","Waqar_270609","2ubair_khan","BabarNoman79","D_Cooper_B","AlpJazbati","Aadilkhan9","O_O4_","ShirazA36268645","SagarShhh","SyedHaiderMeh13","IOrkazai","GulJammas","0samirahmed","SohrabHaider7","ElizahShafak","FahidaY","EyE15920006","TanZ_AR","DanishSheikh999","Anamrajput12345","016Warraich","user22","user23","user24","user25","user26","user27","user28","user29","user30","user31","user32","user33","user34","user35","user36","user37","user38","user39","user40","user41","user42","user43","user44","user45","user46","user47","user48","user49","user50","user51","user52","user53","user54","user55","user56","user57","user58","user59"],
      "range": ["#636EFA","#EF553B","#00CC96","#AB63FA","#FFA15A","#19D3F3","#FF6692","#B6E880","#FF97FF","#FECB52","#636EFA","#EF553B","#00CC96","#AB63FA","#FFA15A","#19D3F3","#FF6692","#B6E880","#FF97FF","#FECB52","#636EFA","#EF553B","#00CC96","#AB63FA","#FFA15A","#19D3F3","#FF6692","#B6E880","#FF97FF","#FECB52","#636EFA","#EF553B","#00CC96","#AB63FA","#FFA15A","#19D3F3","#FF6692","#B6E880","#FF97FF","#FECB52","#636EFA","#EF553B","#00CC96","#AB63FA","#FFA15A","#19D3F3","#FF6692","#B6E880","#FF97FF","#FECB52","#636EFA","#EF553B","#00CC96","#AB63FA","#FFA15A","#19D3F3","#FF6692","#B6E880","#FF97FF","#FECB52"]
    },
    "legend": {
      "title": null, "orient": "none", "legendX": 882, "legendY": 6, "padding": 0,
      "values": ["TaimurKhan91","Waqar_270609","2ubair_khan","BabarNoman79","D_Cooper_B","AlpJazbati","Aadilkhan9","O_O4_","ShirazA36268645","SagarShhh","SyedHaiderMeh13","IOrkazai","GulJammas","0samirahmed","SohrabHaider7","ElizahShafak","FahidaY","EyE15920006","TanZ_AR","DanishSheikh999","Anamrajput12345","016Warraich"],
      "symbolType": "M-2.4,0H2.4M-0.55,0A0.55,0.55,0,1,1,0.55,0A0.55,0.55,0,1,1,-0.55,0Z",
      "symbolSize": 100, "symbolStrokeWidth": 2, "labelOffset": 9,
      "labelFont": "Open Sans", "labelFontSize": 10.5, "labelColor": "#444", "rowPadding": 1.15, "symbolLimit": 0,
      "encode": {"symbols": {"update": {"fill": {"scale": "color", "field": "value"}, "stroke": {"scale": "color", "field": "value"}, "strokeWidth": {"value": 2}, "opacity": {"value": 1}}}}
    }
  },
  "detail": {"field": "user"}
},
"layer": [
  {"mark": {"type": "line", "strokeWidth": 2}, "encoding": {"order": {"field": "tweet", "type": "quantitative"}}},
  {"mark": {"type": "point", "filled": true, "size": 30, "opacity": 1}}
]
}
